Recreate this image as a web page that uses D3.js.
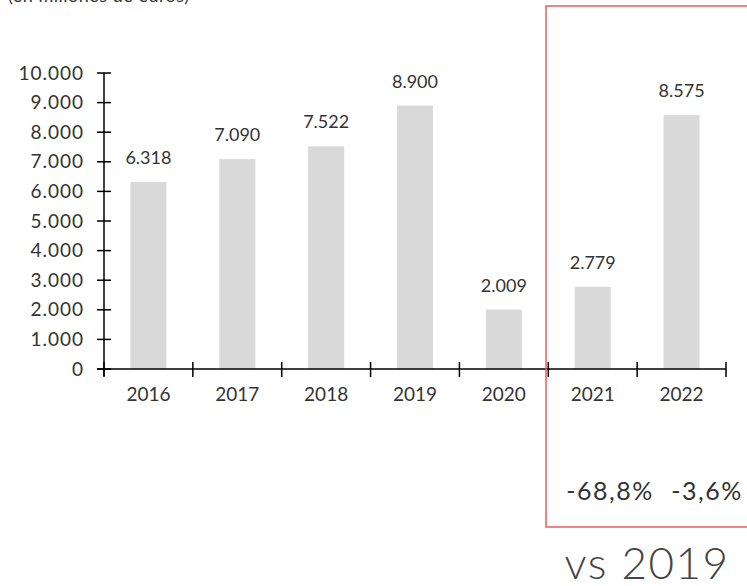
<!DOCTYPE html>
<html>
<head>
<meta charset="utf-8">
<script src="https://cdn.jsdelivr.net/npm/d3@7"></script>
<style>
  body { margin: 0; background: #fff; }
  text { font-family: Lato, "Noto Sans", sans-serif; fill: #333; }
</style>
</head>
<body>
<svg id="chart" width="747" height="586"></svg>
<script>
var years = ['2016', '2017', '2018', '2019', '2020', '2021', '2022']
var values = [6318, 7090, 7522, 8900, 2009, 2779, 8575]
var valueLabels = ['6.318', '7.090', '7.522', '8.900', '2.009', '2.779', '8.575']
var yTicks = [0, 1000, 2000, 3000, 4000, 5000, 6000, 7000, 8000, 9000, 10000]
var changeLabels = ['-68,8%', '-3,6%']

var svg = d3.select('#chart')

var x = d3.scaleBand().domain(years).range([104, 726])
var y = d3.scaleLinear().domain([0, 10000]).range([369, 73])
var fmt = d => d3.format(',')(d).replace(/,/g, '.')
var mid = d => x(d) + x.bandwidth() / 2

// unit note, mostly cut off at the top
svg.append('text')
  .attr('x', 8).attr('y', 2)
  .attr('font-size', 18)
  .style('letter-spacing', '0.5px')
  .text('(en millones de euros)')

// bars
svg.selectAll('rect.bar')
  .data(values)
  .join('rect')
  .attr('class', 'bar')
  .attr('x', (d, i) => mid(years[i]) - 18)
  .attr('width', 36)
  .attr('y', d => y(d))
  .attr('height', d => y(0) - y(d))
  .attr('fill', '#d9d9d9')

svg.selectAll('text.val')
  .data(values)
  .join('text')
  .attr('class', 'val')
  .attr('x', (d, i) => mid(years[i]))
  .attr('y', d => y(d) - 18)
  .attr('text-anchor', 'middle')
  .attr('font-size', 18)
  .text((d, i) => valueLabels[i])

// y axis
var yAxis = svg.append('g')
yAxis.append('line')
  .attr('x1', 104).attr('x2', 104)
  .attr('y1', y(10000)).attr('y2', y(0) + 7)
  .attr('stroke', '#000').attr('stroke-width', 1.5)
yAxis.selectAll('line.tick')
  .data(yTicks)
  .join('line')
  .attr('x1', 97).attr('x2', 111)
  .attr('y1', d => y(d)).attr('y2', d => y(d))
  .attr('stroke', '#000').attr('stroke-width', 1.5)
yAxis.selectAll('text')
  .data(yTicks)
  .join('text')
  .attr('x', 84)
  .attr('y', d => y(d))
  .attr('dy', '0.35em')
  .attr('text-anchor', 'end')
  .attr('font-size', 19)
  .style('letter-spacing', '1px')
  .text(fmt)

// x axis
var xAxis = svg.append('g')
xAxis.append('line')
  .attr('x1', 97).attr('x2', 726)
  .attr('y1', y(0)).attr('y2', y(0))
  .attr('stroke', '#000').attr('stroke-width', 1.5)
xAxis.selectAll('line.tick')
  .data(d3.range(years.length + 1))
  .join('line')
  .attr('x1', i => 104 + i * x.step())
  .attr('x2', i => 104 + i * x.step())
  .attr('y1', y(0) - 7).attr('y2', y(0) + 8)
  .attr('stroke', '#000').attr('stroke-width', 1.5)
xAxis.selectAll('text')
  .data(years)
  .join('text')
  .attr('x', d => mid(d))
  .attr('y', 394)
  .attr('dy', '0.35em')
  .attr('text-anchor', 'middle')
  .attr('font-size', 19)
  .text(d => d)

// highlight box
svg.append('rect')
  .attr('x', 546).attr('y', 6)
  .attr('width', 220).attr('height', 521)
  .attr('fill', 'none')
  .attr('stroke', '#f05a5a').attr('stroke-width', 1.5)

svg.selectAll('text.chg')
  .data(changeLabels)
  .join('text')
  .attr('class', 'chg')
  .attr('x', (d, i) => [610, 707][i])
  .attr('y', 491)
  .attr('dy', '0.35em')
  .attr('text-anchor', 'middle')
  .attr('font-size', 25)
  .style('letter-spacing', '1.5px')
  .text(d => d)

svg.append('text')
  .attr('x', 647).attr('y', 564)
  .attr('dy', '0.35em')
  .attr('text-anchor', 'middle')
  .attr('font-size', 44)
  .attr('font-weight', 300)
  .style('letter-spacing', '1.5px')
  .style('fill', '#444')
  .text('vs 2019')
</script>
</body>
</html>
